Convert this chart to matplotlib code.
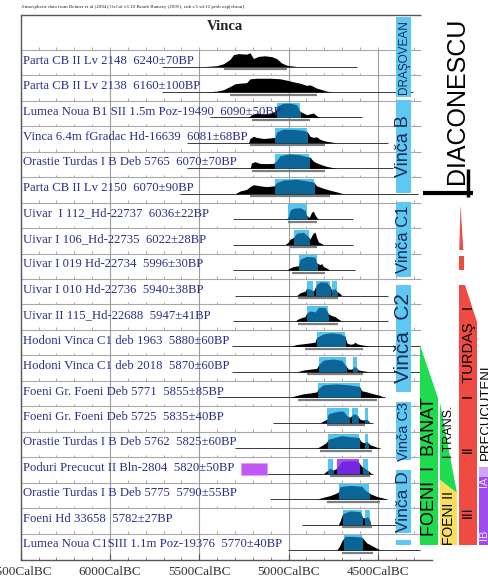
import numpy as np
import matplotlib
matplotlib.use("Agg")
import matplotlib.pyplot as plt
from matplotlib.patches import Rectangle, Polygon

# ---- dates (calendar years BC); heights are fractions of one row ----
LABELS = [
    "Parta CB II Lv 2148  6240±70BP",
    "Parta CB II Lv 2138  6160±100BP",
    "Lumea Noua B1 SII 1.5m Poz-19490  6090±50BP",
    "Vinca 6.4m fGradac Hd-16639  6081±68BP",
    "Orastie Turdas I B Deb 5765  6070±70BP",
    "Parta CB II Lv 2150  6070±90BP",
    "Uivar  I 112_Hd-22737  6036±22BP",
    "Uivar I 106_Hd-22735  6022±28BP",
    "Uivar I 019 Hd-22734  5996±30BP",
    "Uivar I 010 Hd-22736  5940±38BP",
    "Uivar II 115_Hd-22688  5947±41BP",
    "Hodoni Vinca C1 deb 1963  5880±60BP",
    "Hodoni Vinca C1 deb 2018  5870±60BP",
    "Foeni Gr. Foeni Deb 5771  5855±85BP",
    "Foeni Gr. Foeni Deb 5725  5835±40BP",
    "Orastie Turdas I B Deb 5762  5825±60BP",
    "Poduri Precucut II Bln-2804  5820±50BP",
    "Orastie Turdas I B Deb 5775  5790±55BP",
    "Foeni Hd 33658  5782±27BP",
    "Lumea Noua C1SIII 1.1m Poz-19376  5770±40BP",
]
LINE_START = [5711, 5709, 5440, 5571, 5571, 5608, 5309, 5309, 5309, 5300,
              5309, 5319, 5319, 5403, 5086, 5300, 5120, 5104, 4926, 5003]
LINE_END = [4618, 4303, 4590, 4441, 4415, 4275, 4637, 4637, 4628, 4441,
            4441, 4264, 4264, 4459, 4527, 4488, 4527, 4449, 4359, 4264]

DIST_YEARS = [
    [5468, 5403, 5365, 5328, 5309, 5281, 5235, 5216, 5197, 5169, 5132, 5095, 5067, 5039, 5011, 4955],
    [5468, 5403, 5365, 5328, 5300, 5272, 5235, 5216, 5179, 5104, 5048, 5011, 4973, 4936, 4899, 4880,
     4861, 4843, 4805, 4786, 4749],
    [5225, 5207, 5179, 5141, 5104, 5076, 5063, 5048, 5029, 4992, 4955, 4936, 4917, 4899, 4880, 4861, 4843, 4824],
    [5225, 5216, 5197, 5179, 5141, 5104, 5076, 5067, 5029, 4973, 4917, 4895, 4880, 4861, 4843, 4824,
     4796, 4768, 4731],
    [5216, 5207, 5188, 5160, 5123, 5085, 5070, 5048, 4992, 4936, 4899, 4880, 4861, 4843, 4815, 4786, 4731],
    [5300, 5272, 5235, 5216, 5197, 5160, 5123, 5081, 5070, 5029, 4955, 4899, 4861, 4843, 4805, 4768, 4731, 4693],
    [5011, 5001, 4992, 4973, 4936, 4908, 4899, 4884, 4871, 4861, 4852, 4843, 4833],
    [5020, 5001, 4992, 4973, 4955, 4917, 4889, 4880, 4865, 4852, 4843, 4833, 4815, 4805],
    [5011, 4992, 4973, 4945, 4936, 4899, 4852, 4843, 4824, 4815, 4805, 4786, 4768],
    [4955, 4936, 4908, 4899, 4880, 4861, 4843, 4824, 4786, 4768, 4759, 4740, 4731, 4712, 4702],
    [4964, 4945, 4927, 4908, 4899, 4880, 4852, 4833, 4796, 4777, 4759, 4740, 4721, 4702],
    [4992, 4955, 4917, 4880, 4852, 4843, 4805, 4759, 4712, 4684, 4674, 4656, 4637, 4628, 4618, 4600, 4562, 4544],
    [4955, 4917, 4880, 4843, 4829, 4805, 4749, 4702, 4684, 4665, 4647, 4633, 4622, 4609, 4581, 4544],
    [4992, 4955, 4917, 4880, 4843, 4833, 4805, 4731, 4656, 4604, 4590, 4562, 4525, 4488, 4469],
    [4824, 4805, 4786, 4777, 4740, 4712, 4693, 4674, 4656, 4637, 4618, 4600, 4581, 4562, 4544],
    [4843, 4815, 4790, 4777, 4740, 4702, 4656, 4609, 4596, 4581, 4562, 4544, 4506, 4488],
    [4805, 4786, 4768, 4749, 4731, 4721, 4702, 4656, 4618, 4604, 4590, 4572, 4553, 4535],
    [4843, 4805, 4768, 4740, 4721, 4712, 4656, 4590, 4581, 4572, 4544, 4506, 4469, 4450],
    [4721, 4712, 4697, 4656, 4600, 4585, 4572, 4559, 4548, 4540],
    [4731, 4716, 4702, 4684, 4637, 4590, 4581, 4562, 4544, 4525, 4497, 4488],
]
DIST_HEIGHTS = [
    [0, .03, .1, .26, .43, .47, .45, .5, .29, .37, .39, .36, .29, .13, .05, 0],
    [0, .03, .08, .2, .3, .32, .34, .48, .5, .5, .48, .43, .37, .32, .24, .26, .2, .14, .07, .03, 0],
    [0, .1, .16, .13, .16, .22, .42, .46, .52, .52, .46, .22, .16, .1, .13, .16, .06, 0],
    [0, .16, .24, .2, .16, .18, .2, .4, .5, .49, .46, .4, .24, .2, .22, .13, .07, .04, 0],
    [0, .2, .24, .18, .17, .18, .26, .46, .53, .49, .43, .4, .26, .2, .13, .07, 0],
    [0, .1, .16, .26, .33, .29, .26, .29, .4, .5, .53, .47, .43, .29, .2, .13, .07, 0],
    [0, .1, .33, .4, .42, .33, .13, .07, .26, .29, .16, .07, 0],
    [0, .1, .2, .26, .42, .45, .29, .2, .4, .46, .26, .1, .04, 0],
    [0, .08, .13, .16, .4, .5, .47, .26, .2, .24, .13, .07, 0],
    [0, .1, .16, .26, .24, .16, .4, .5, .49, .33, .2, .26, .16, .07, 0],
    [0, .08, .13, .16, .29, .37, .33, .5, .49, .26, .2, .16, .07, 0],
    [0, .07, .1, .13, .16, .33, .46, .5, .46, .37, .13, .08, .1, .16, .1, .07, .03, 0],
    [0, .07, .1, .13, .29, .43, .47, .42, .26, .1, .1, .2, .16, .07, .04, 0],
    [0, .07, .13, .16, .2, .33, .46, .49, .45, .4, .24, .2, .13, .07, 0],
    [0, .07, .13, .33, .4, .43, .42, .26, .2, .33, .29, .13, .1, .13, 0],
    [0, .1, .2, .33, .4, .46, .42, .4, .26, .2, .24, .13, .04, 0],
    [0, .1, .2, .13, .2, .3, .45, .47, .47, .38, .26, .2, .1, 0],
    [0, .07, .13, .2, .26, .46, .5, .47, .4, .33, .2, .1, .04, 0],
    [0, .13, .4, .5, .47, .26, .24, .29, .2, 0],
    [0, .13, .33, .5, .5, .47, .4, .26, .2, .13, .04, 0],
]
# highlighted ranges (from, to); the Poduri row has one purple range
HIGHLIGHTS = [
    [], [], [(5067, 4936)], [(5076, 4895)], [(5076, 4884)], [(5076, 4857)],
    [(5001, 4899)], [(4969, 4885)], [(4941, 4843)],
    [(4899, 4865), (4846, 4768), (4759, 4731)], [(4899, 4777)],
    [(4843, 4684)], [(4829, 4678), (4637, 4618)], [(4833, 4600)],
    [(4786, 4660), (4646, 4609), (4572, 4553)], [(4781, 4605), (4572, 4553)],
    [(4777, 4753), (4731, 4604), (4581, 4553)], [(4717, 4549)],
    [(4697, 4587), (4572, 4544)], [(4689, 4589)],
]
PURPLE_HIGHLIGHT = (16, 1)          # row, range index
PODURI_MARK = (16, 5268, 5123)      # row, from, to
RANGE_BARS = [(5361, 5011), (5328, 4843), (5207, 4880), (5216, 4796), (5207, 4796), (5216, 4768),
              (5001, 4843), (4992, 4843), (4983, 4796), (4945, 4721), (4945, 4721), (4908, 4581),
              (4899, 4581), (4945, 4506), (4786, 4572), (4824, 4535), (4768, 4544), (4786, 4488),
              (4702, 4535), (4702, 4525)]

PHASES = ["DRAŞOVEAN", "Vinča B", "Vinča C1", "Vinča  C2", "Vinča C3", "Vinča D", ""]
PHASE_TOP = [0.08, 3.34, 7.35, 10.61, 15.21, 17.88, 20.63]      # in rows
PHASE_BOTTOM = [3.22, 6.99, 10.29, 14.81, 17.49, 20.35, 20.82]
PHASE_FONT = [8.5, 13, 12, 15, 10.5, 12.5, 8]

HEADER = ("Atmospheric data from Reimer et al (2004);OxCal v3.10 Bronk Ramsey (2005); "
          "cub r:5 sd:12 prob usp[chron]")

# right-hand periodisation schemes (sketch coordinates, pixels of the page)
FOENI = [(420, 345), (438, 398), (438, 545), (420, 545)]
TRANS = [(440, 403), (457, 493), (440, 480)]
FOENI_II = [(440, 480), (457, 493), (457, 545), (440, 545)]
TURDAS = [[(460.5, 205), (463.3, 250), (459.3, 250)],
          [(459, 256), (463.5, 256), (463.5, 270), (459, 270)],
          [(459, 285), (465, 285), (477, 322), (477, 545), (459, 545)]]
PRECUCUTENI = [(479, 467), (488, 467), (488, 545), (479, 545)]

W, H = 488, 581
L, R, T, B = 20.7, 432, 15, 559.5
ROW0 = 1.375          # header height in rows
BASE = 0.65           # baseline position inside a row
BOX_H = 0.58
DIST_SCALE = 1.08
YPP = 500 / 89.3      # years per pixel

NAVY = "#29308a"
LIGHT = "#55c4ee"
DARK = "#0b6596"
SERIF = ["Liberation Serif", "DejaVu Serif"]
SANS = ["Liberation Sans", "DejaVu Sans"]

fig = plt.figure(figsize=(W / 100, H / 100), dpi=100)
ax = fig.add_axes([L / W, 1 - B / H, (R - L) / W, (B - T) / H])
x_left, x_right = 6500, 6500 - (R - L) * YPP
ax.set_xlim(x_left, x_right)
n_rows = (B - T) / 25.45
ax.set_ylim(n_rows, 0)
x_rows_end = 6500 - (421 - L) * YPP

# grid: row separators with minor ticks, vertical lines every 500 years
minor = np.arange(6400, x_rows_end, -100)
for k in range(len(LABELS)):
    sep = ROW0 + k
    ax.hlines(sep, x_left, x_rows_end, color="#a9a9a9", lw=0.8, zorder=1)
    ax.vlines(minor, sep - 0.1, sep, color="#a9a9a9", lw=0.7, zorder=1)
ax.vlines([6000, 5500, 5000, 4500], ROW0, n_rows, color="#9c9c9c", lw=0.8, zorder=1)
ax.hlines(0, x_left, x_rows_end, color="#555555", lw=1.0, clip_on=False, zorder=1)

for k, label in enumerate(LABELS):
    top = ROW0 + k
    base = top + BASE
    ax.hlines(base, LINE_START[k], LINE_END[k], color="#3a3a3a", lw=0.7, zorder=2)
    ax.text(6489, top + 0.42, label, color=NAVY, family=SERIF, fontsize=9.2,
            va="center", ha="left", zorder=6)
    yrs = np.array(DIST_YEARS[k])
    hs = np.array(DIST_HEIGHTS[k]) * DIST_SCALE
    ax.fill_between(yrs, base, base - hs, color="black", lw=0, zorder=2)
    r0, r1 = RANGE_BARS[k]
    ax.hlines(base + 0.1, r0, r1, color="#7d7d7d", lw=1.6, zorder=2)
    for j, (h0, h1) in enumerate(HIGHLIGHTS[k]):
        purple = (k, j) == PURPLE_HIGHLIGHT
        rect = Rectangle((h1, base - BOX_H), h0 - h1, BOX_H, lw=0,
                         fc="#a84ff0" if purple else LIGHT, zorder=3)
        ax.add_patch(rect)
        fill = ax.fill_between(yrs, base, base - hs, lw=0, zorder=4,
                               color="#7326df" if purple else DARK)
        fill.set_clip_path(rect)
    if k == PODURI_MARK[0]:
        ax.add_patch(Rectangle((PODURI_MARK[2], top + 0.24), PODURI_MARK[1] - PODURI_MARK[2], 0.46,
                               fc="#c257f5", ec="#d9a0f8", lw=0.6, zorder=3))

ax.text(0.497, 0.978, "Vinca", transform=ax.transAxes, ha="center", va="center",
        family=SERIF, fontsize=10.5, fontweight="bold", color="#222222")

# Vinča phase columns
p0, p1 = 6500 - (396 - L) * YPP, 6500 - (411 - L) * YPP
for name, t, b, fs in zip(PHASES, PHASE_TOP, PHASE_BOTTOM, PHASE_FONT):
    ax.add_patch(Rectangle((p1, t), p0 - p1, b - t, fc="#5ec8f2", lw=0, zorder=5, clip_on=False))
    ax.text((p0 + p1) / 2, (t + b) / 2, name, rotation=90, ha="center", va="center",
            family=SANS, fontsize=fs, color="#1c2a4e", zorder=6, clip_on=False)

ax.set_xticks(range(6500, 4190, -500))
ax.set_xticklabels([f"{y}CalBC" for y in range(6500, 4190, -500)],
                   family=SERIF, fontsize=9.5, color="#333333")
ax.set_xticks(minor, minor=True)
ax.tick_params(axis="x", which="major", direction="in", length=4, pad=5, color="#555555")
ax.tick_params(axis="x", which="minor", direction="in", length=2.5, color="#777777")
ax.set_yticks([])
for side in ("top", "right"):
    ax.spines[side].set_visible(False)
for side in ("left", "bottom"):
    ax.spines[side].set_color("#555555")
    ax.spines[side].set_linewidth(1.0)

fig.text(L / W, 1 - 7 / H, HEADER, fontsize=3.6, family=SERIF, color="#222222", va="center")

# overlay layer for the periodisation schemes on the right
ov = fig.add_axes([0, 0, 1, 1], zorder=10)
ov.set_xlim(0, W)
ov.set_ylim(H, 0)
ov.axis("off")
ov.add_patch(Polygon(FOENI, closed=True, fc="#1fdc4f", lw=0))
ov.add_patch(Polygon(TRANS, closed=True, fc="#1fdc4f", lw=0))
ov.add_patch(Polygon(FOENI_II, closed=True, fc="#f9df5c", lw=0))
for shape in TURDAS:
    ov.add_patch(Polygon(shape, closed=True, fc="#ef4b43", lw=0))
ov.add_patch(Polygon(PRECUCUTENI, closed=True, fc="#a04cf0", lw=0))
ov.add_patch(Rectangle((479, 467), 9, 10, fc="#cfa4f7", lw=0))

ov.text(457, 101, "DIACONESCU", rotation=90, ha="center", va="center", family=SANS, fontsize=18)
ov.plot([423, 473], [193, 193], color="black", lw=3, solid_capstyle="butt")
ov.plot([468, 468], [169, 197], color="black", lw=2.5, solid_capstyle="butt")

ov.text(429, 467, "FOENI  I  BANAT", rotation=90, ha="center", va="center", family=SANS, fontsize=13)
ov.text(449, 432, "I TRANS.", rotation=90, ha="center", va="center", family=SANS, fontsize=9)
ov.text(449, 518, "FOENI II", rotation=90, ha="center", va="center", family=SANS, fontsize=10)
ov.text(469, 352, "I   TURDAŞ   I", rotation=90, ha="center", va="center", family=SANS, fontsize=10.5)
ov.text(468, 449, "II", rotation=90, ha="center", va="center", family=SANS, fontsize=10)
ov.text(468, 512, "III", rotation=90, ha="center", va="center", family=SANS, fontsize=10)
ov.text(485.5, 412, "PRECUCUTENI", rotation=90, ha="center", va="center", family=SANS, fontsize=9.5)
ov.text(484, 482, "IA", rotation=90, ha="center", va="center", family=SANS, fontsize=8, color="#efe3ff")
ov.text(484, 535, "IB", rotation=90, ha="center", va="center", family=SANS, fontsize=8, color="#efe3ff")

fig.savefig("out.png", dpi=100)
